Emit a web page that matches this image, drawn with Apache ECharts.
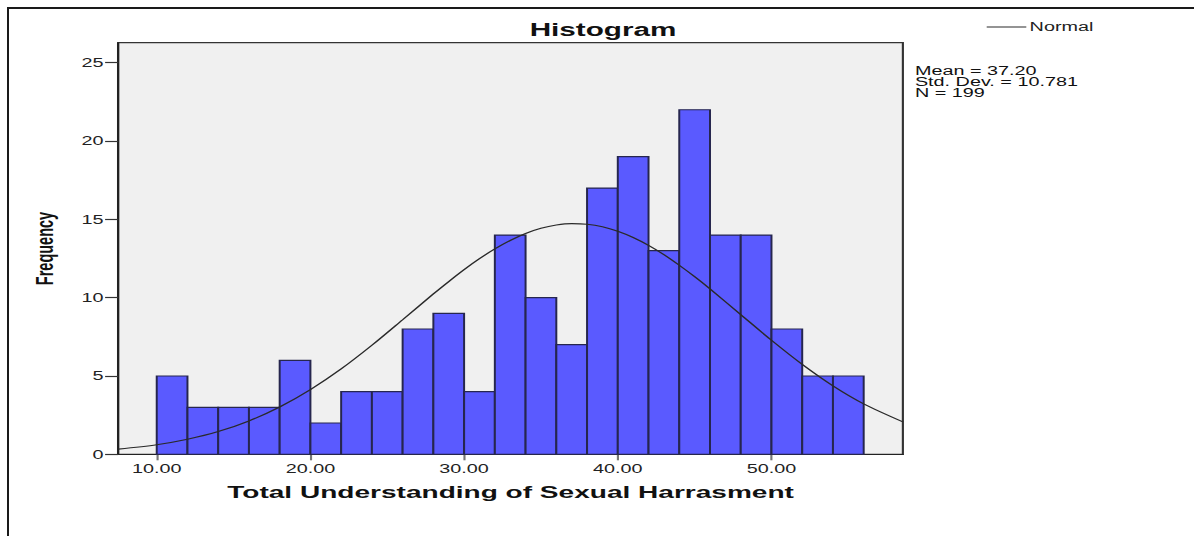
<!DOCTYPE html>
<html>
<head>
<meta charset="utf-8">
<script src="https://cdn.jsdelivr.net/npm/echarts@6/dist/echarts.min.js"></script>
<style>
  html, body { margin: 0; padding: 0; background: #ffffff; overflow: hidden; }
  #frame { position: absolute; left: 7px; top: 7px; width: 1187px; height: 529px;
           border-left: 2px solid #1a1a1a; border-top: 2px solid #1a1a1a; box-sizing: border-box; }
  #chart { position: absolute; left: 0; top: 0; width: 723.6px; height: 536px;
           transform: scaleX(1.65); transform-origin: 0 0; }
</style>
</head>
<body>
<div id="frame"></div>
<div id="chart"></div>
<script>
// ---- data ----
const binStarts = [10,12,14,16,18,20,22,24,26,28,30,32,34,36,38,40,42,44,46,48,50,52,54];
const counts    = [5,3,3,3,6,2,4,4,8,9,4,14,10,7,17,19,13,22,14,14,8,5,5];
const binWidth  = 2;
const curveX = [7.5,10,12,14,16,18,20,22,24,26,28,29,30,31,32,33,34,35,36,37,38,39,40,41,42,43,44,45,46,48,50,52,54,56,58.55];
const curveY = [0.33,0.61,0.96,1.45,2.13,3.02,4.13,5.45,6.96,8.59,10.24,11.03,11.79,12.49,13.11,13.65,14.10,14.43,14.64,14.73,14.69,14.53,14.24,13.84,13.34,12.75,12.07,11.34,10.56,8.92,7.28,5.74,4.37,3.22,2.07];
const xTicks = [10,20,30,40,50];
const yTicks = [0,5,10,15,20,25];
const statMean = '37.20';
const statSD = '10.781';
const statN = '199';
const chartTitle = 'Histogram';
const xTitle = 'Total Understanding of Sexual Harrasment';
const yTitle = 'Frequency';
const curveName = 'Normal';

const FONT = '"Liberation Sans", Arial, sans-serif';

const barData = binStarts.map((s, i) => [s, s + binWidth, counts[i]]);
const lineData = curveX.map((x, i) => [x, curveY[i]]);

const chart = echarts.init(document.getElementById('chart'), null, { renderer: 'svg' });
chart.setOption({
  animation: false,
  backgroundColor: 'transparent',
  title: {
    text: chartTitle,
    left: 321, top: 21, padding: 0,
    textStyle: { fontFamily: FONT, fontSize: 18, fontWeight: 'bold', color: '#111' }
  },
  legend: {
    data: [{ name: curveName, icon: 'rect' }],
    left: 598, top: 21, padding: 0,
    itemWidth: 24, itemHeight: 1.2, itemGap: 0,
    textStyle: { fontFamily: FONT, fontSize: 12, color: '#222', padding: [0, 0, 0, -3] }
  },
  graphic: [{
    type: 'text',
    left: 554.5, top: 64.5,
    style: {
      text: 'Mean = ' + statMean + '\nStd. Dev. = ' + statSD + '\nN = ' + statN,
      font: '12px ' + FONT, lineHeight: 11, fill: '#111'
    }
  }],
  grid: {
    left: 71.7, right: 176.8, top: 42.7, bottom: 81.7,
    show: true, backgroundColor: '#f0f0f0', borderColor: '#333', borderWidth: 1.3
  },
  xAxis: {
    type: 'value', min: 7.5, max: 58.55,
    name: xTitle, nameLocation: 'middle', nameGap: 29,
    nameTextStyle: { fontFamily: FONT, fontSize: 17, fontWeight: 'bold', color: '#111' },
    axisLine: { show: true, lineStyle: { color: '#222', width: 1.2 } },
    splitLine: { show: false },
    axisTick: { show: true, length: 6, inside: false, customValues: xTicks, lineStyle: { color: '#777', width: 1.3 } },
    axisLabel: { customValues: xTicks, margin: 8.5, fontFamily: FONT, fontSize: 12, color: '#222',
                 formatter: v => v.toFixed(2) }
  },
  yAxis: {
    type: 'value', min: 0, max: 26.28,
    name: yTitle, nameLocation: 'middle', nameGap: 37, nameRotate: 90,
    nameTextStyle: { fontFamily: FONT, fontSize: 14.5, fontWeight: 'bold', color: '#111' },
    axisLine: { show: true, lineStyle: { color: '#222', width: 1.2 } },
    splitLine: { show: false },
    axisTick: { show: true, length: 8, inside: false, customValues: yTicks, lineStyle: { color: '#333', width: 1.2 } },
    axisLabel: { customValues: yTicks, margin: 9, fontFamily: FONT, fontSize: 12, color: '#222' }
  },
  series: [{
    type: 'custom',
    name: 'Frequency',
    data: barData,
    encode: { x: [0, 1], y: 2 },
    renderItem: function (params, api) {
      const p0 = api.coord([api.value(0), api.value(2)]);
      const p1 = api.coord([api.value(1), 0]);
      return {
        type: 'rect',
        shape: { x: p0[0], y: p0[1], width: p1[0] - p0[0], height: p1[1] - p0[1] },
        style: { fill: '#5a5aff', stroke: '#26264e', lineWidth: 1.2 }
      };
    },
    z: 2
  }, {
    type: 'line',
    name: curveName,
    data: lineData,
    smooth: 0.3,
    symbol: 'none',
    clip: true,
    lineStyle: { color: '#2a2a2a', width: 1.1 },
    itemStyle: { color: '#2a2a2a' },
    z: 3
  }]
});
</script>
</body>
</html>
